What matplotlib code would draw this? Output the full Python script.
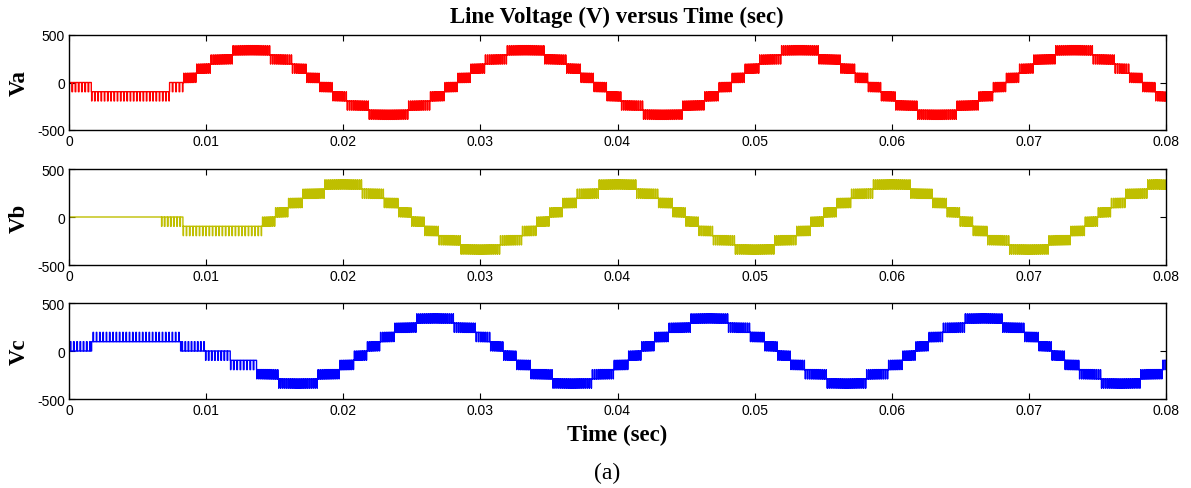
import numpy as np
import matplotlib
matplotlib.use("Agg")
import matplotlib.pyplot as plt

# ---------------- data ----------------
level_step = 97.0              # V per inverter level
t_end = 0.08
carrier_period = 0.00014       # PWM switching period in the sinusoidal part (s)
trans_carrier_period = 0.00024 # PWM switching period in the start-up part (s)

# band start offsets within one 20 ms cycle (from the rising zero crossing) and lower level of each band
cycle_offsets = [0.0, 0.00095, 0.0020, 0.0036, 0.0064, 0.0080, 0.00905,
                 0.0100, 0.01095, 0.0120, 0.0136, 0.0164, 0.0180, 0.01905]
cycle_levels = [0, 1, 2, 3, 2, 1, 0, -1, -2, -3, -4, -3, -2, -1]
cycle_duty_a = [0, 0, 0, 0, 1, 1, 1, 1, 1, 1, 1, 0, 0, 0]      # duty at band start
cycle_duty_m = [None, None, None, 0.5, None, None, None,
                None, None, None, 0.5, None, None, None]       # duty at band middle (peak bands)
cycle_duty_b = [1, 1, 1, 0, 0, 0, 0, 0, 0, 0, 1, 1, 1, 1]      # duty at band end

# Va
va_trans_edges = [0.0, 0.00165, 0.00731]
va_trans_levels = [-1, -2, -1]
va_trans_duty = [0.8, 0.85, 0.8]
va_trans_end = 0.0083
va_cycle_starts = [0.0083, 0.0283, 0.0483, 0.0683]

# Vb
vb_trans_edges = [0.0, 0.00675, 0.00833]
vb_trans_levels = [0, -1, -2]
vb_trans_duty = [0.0, 0.8, 0.85]
vb_trans_end = 0.01404
vb_cycle_starts = [-0.005, 0.015, 0.035, 0.055, 0.075]

# Vc
vc_trans_edges = [0.0, 0.00165, 0.00814, 0.00996, 0.01178]
vc_trans_levels = [0, 1, 0, -1, -2]
vc_trans_duty = [0.2, 0.15, 0.2, 0.8, 0.8]
vc_trans_end = 0.0137
vc_cycle_starts = [0.0017, 0.0217, 0.0417, 0.0617]

series_names = ["Va", "Vb", "Vc"]
series_colors = ["#FF0000", "#BFBF00", "#0000FF"]
x_ticks = [0, 0.01, 0.02, 0.03, 0.04, 0.05, 0.06, 0.07, 0.08]
x_ticklabels = ["0", "0.01", "0.02", "0.03", "0.04", "0.05", "0.06", "0.07", "0.08"]
y_ticks = [-500, 0, 500]
y_ticklabels = ["-500", "0", "500"]


def build_bands(tr_edges, tr_levels, tr_duty, tr_end, starts):
    bands = []  # (t0, t1, level, duty_a, duty_m, duty_b, carrier)
    for i in range(len(tr_edges)):
        t0 = tr_edges[i]
        t1 = tr_edges[i + 1] if i + 1 < len(tr_edges) else tr_end
        d = tr_duty[i]
        bands.append((t0, t1, tr_levels[i], d, None, d, trans_carrier_period))
    for s in starts:
        for k in range(len(cycle_offsets)):
            t0 = s + cycle_offsets[k]
            t1 = s + (cycle_offsets[k + 1] if k + 1 < len(cycle_offsets) else 0.02)
            t0c, t1c = max(t0, tr_end), min(t1, t_end)
            if t1c <= t0c:
                continue
            bands.append((t0c, t1c, cycle_levels[k], cycle_duty_a[k], cycle_duty_m[k],
                          cycle_duty_b[k], carrier_period))
    return bands


def pwm_trace(bands):
    xs, ys = [], []
    for (t0, t1, lev, da, dm, db, cp) in bands:
        lo, hi = lev * level_step, (lev + 1) * level_step
        n = max(1, int(round((t1 - t0) / cp)))
        dt = (t1 - t0) / n
        for i in range(n):
            f = (i + 0.5) / n
            if dm is None:
                d = da + (db - da) * f
            else:
                d = da + (dm - da) * (f / 0.5) if f < 0.5 else dm + (db - dm) * ((f - 0.5) / 0.5)
            d = min(max(d, 0.0), 1.0)
            tc = t0 + (i + 0.5) * dt
            if d <= 0.02:
                xs += [t0 + i * dt, t0 + (i + 1) * dt]
                ys += [lo, lo]
            elif d >= 0.98:
                xs += [t0 + i * dt, t0 + (i + 1) * dt]
                ys += [hi, hi]
            else:
                a, b = tc - d * dt / 2, tc + d * dt / 2
                xs += [t0 + i * dt, a, a, b, b, t0 + (i + 1) * dt]
                ys += [lo, lo, hi, hi, lo, lo]
    return np.array(xs), np.array(ys)


all_bands = [
    build_bands(va_trans_edges, va_trans_levels, va_trans_duty, va_trans_end, va_cycle_starts),
    build_bands(vb_trans_edges, vb_trans_levels, vb_trans_duty, vb_trans_end, vb_cycle_starts),
    build_bands(vc_trans_edges, vc_trans_levels, vc_trans_duty, vc_trans_end, vc_cycle_starts),
]

W, H = 1191, 489
fig = plt.figure(figsize=(W / 100, H / 100), dpi=100)

axes_px = [(36, 131), (170, 266), (304, 400)]  # (top, bottom) in pixels
left_px, right_px = 69, 1166

serif = ["Liberation Serif", "DejaVu Serif"]
sans = ["Liberation Sans", "DejaVu Sans"]

for idx, (top, bot) in enumerate(axes_px):
    ax = fig.add_axes([left_px / W, 1 - bot / H, (right_px - left_px) / W, (bot - top) / H])
    x, y = pwm_trace(all_bands[idx])
    ax.plot(x, y, color=series_colors[idx], linewidth=1.0, antialiased=True)
    ax.set_xlim(0, t_end)
    ax.set_ylim(-500, 500)
    ax.set_xticks(x_ticks)
    ax.set_xticklabels(x_ticklabels, fontfamily=sans, fontsize=10)
    ax.set_yticks(y_ticks)
    ax.set_yticklabels(y_ticklabels, fontfamily=sans, fontsize=10)
    ax.tick_params(direction="in", top=True, right=True, length=4, width=0.8, pad=3)
    for sp in ax.spines.values():
        sp.set_linewidth(1.0)
    fig.text(19 / W, 1 - (top + bot) / 2 / H, series_names[idx], rotation=90,
             ha="center", va="center", fontfamily=serif, fontweight="bold", fontsize=16.5)

fig.text(617 / W, 1 - 17 / H, "Line Voltage (V) versus Time (sec)", ha="center", va="center",
         fontfamily=serif, fontweight="bold", fontsize=16.5)
fig.text(617 / W, 1 - 435 / H, "Time (sec)", ha="center", va="center",
         fontfamily=serif, fontweight="bold", fontsize=16.5)
fig.text(607 / W, 1 - 473 / H, "(a)", ha="center", va="center",
         fontfamily=serif, fontsize=17)

fig.savefig("out.png", dpi=100)
